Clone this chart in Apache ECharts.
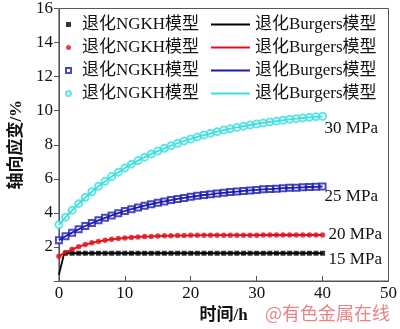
<!DOCTYPE html>
<html>
<head>
<meta charset="utf-8">
<script src="https://cdn.jsdelivr.net/npm/echarts@6/dist/echarts.min.js"></script>
<style>html,body{margin:0;padding:0;background:#fff}#c{width:400px;height:329px}</style>
</head>
<body>
<div id="c"></div>
<script>
// ---- data ----
var times = [0,1,2,3,4,5,6,7,8,9,10,11,12,13,14,15,16,17,18,19,20,21,22,23,24,25,26,27,28,29,30,31,32,33,34,35,36,37,38,39,40];
var strain30 = [3.30,3.74,4.15,4.54,4.90,5.24,5.56,5.85,6.13,6.39,6.63,6.86,7.07,7.27,7.46,7.63,7.79,7.94,8.09,8.22,8.34,8.46,8.57,8.67,8.77,8.86,8.94,9.02,9.09,9.16,9.22,9.28,9.34,9.39,9.44,9.49,9.53,9.57,9.61,9.64,9.67];
var strain25 = [2.40,2.63,2.84,3.04,3.23,3.40,3.56,3.71,3.85,3.98,4.11,4.22,4.32,4.42,4.51,4.60,4.67,4.75,4.82,4.88,4.94,5.00,5.05,5.09,5.14,5.18,5.22,5.25,5.29,5.32,5.35,5.38,5.40,5.42,5.45,5.47,5.48,5.50,5.52,5.53,5.55];
var strain20 = [1.45,1.68,1.86,2.01,2.14,2.24,2.32,2.39,2.45,2.49,2.53,2.56,2.59,2.61,2.62,2.64,2.65,2.66,2.67,2.67,2.68,2.68,2.69,2.69,2.69,2.69,2.69,2.69,2.69,2.69,2.69,2.70,2.70,2.70,2.70,2.70,2.70,2.70,2.70,2.70,2.70];
var times15 = [1,2,3,4,5,6,7,8,9,10,11,12,13,14,15,16,17,18,19,20,21,22,23,24,25,26,27,28,29,30,31,32,33,34,35,36,37,38,39,40];
var strain15 = [1.63,1.63,1.63,1.63,1.63,1.63,1.63,1.63,1.63,1.63,1.63,1.63,1.63,1.63,1.63,1.63,1.63,1.63,1.63,1.63,1.63,1.63,1.63,1.63,1.63,1.63,1.63,1.63,1.63,1.63,1.63,1.63,1.63,1.63,1.63,1.63,1.63,1.63,1.63,1.63];
var line15Times = [0,0.8,40];
var line15Values = [0.37,1.63,1.63];
var stressLabels = ['15 MPa','20 MPa','25 MPa','30 MPa'];
var xTicks = [0,10,20,30,40,50];
var yTicks = [0,2,4,6,8,10,12,14,16];
var ngkhName = '退化NGKH模型';
var burgersName = '退化Burgers模型';

function zip(t, v){ return t.map(function(x,i){ return [x, v[i]]; }); }

var FONT = '"Liberation Serif","Noto Sans CJK SC",serif';
var colors = ['#000000','#e3101a','#1c1cb0','#3cdede'];

var chart = echarts.init(document.getElementById('c'), null, {renderer:'canvas'});

var scatterDefs = [
  {id:'s15', data: zip(times15, strain15), symbol:'rect', size:5, c:colors[0]},
  {id:'s20', data: zip(times, strain20), symbol:'circle', size:5.5, c:colors[1]},
  {id:'s25', data: zip(times, strain25), symbol:'emptyRect', size:6, c:colors[2]},
  {id:'s30', data: zip(times, strain30), symbol:'emptyCircle', size:7, c:colors[3]}
];
var lineDefs = [
  {id:'l15', data: zip(line15Times, line15Values), c:colors[0], label:stressLabels[0], off:[-2,6]},
  {id:'l20', data: zip(times, strain20), c:colors[1], label:stressLabels[1], off:[-2,0]},
  {id:'l25', data: zip(times, strain25), c:colors[2], label:stressLabels[2], off:[-6,10]},
  {id:'l30', data: zip(times, strain30), c:colors[3], label:stressLabels[3], off:[-6,12]}
];

var series = [];
scatterDefs.forEach(function(d){
  series.push({
    name:d.id, type:'scatter', data:d.data, symbol:d.symbol, symbolSize:d.size, z:2,
    itemStyle:{color:d.c, borderColor:d.c, borderWidth: d.symbol.indexOf('empty')===0 ? 1.2 : 0},
    silent:true
  });
});
lineDefs.forEach(function(d){
  series.push({
    name:d.id, type:'line', data:d.data, symbol:'none', showSymbol:false, z:3,
    lineStyle:{color:d.c, width:1.8}, itemStyle:{color:d.c},
    endLabel:{show:true, formatter:d.label, color:'#111', fontFamily:FONT, fontSize:17, offset:d.off},
    silent:true, animation:false
  });
});

chart.setOption({
  animation:false,
  backgroundColor:'#fff',
  grid:{left:50, right:8, top:5, bottom:46, show:true, borderColor:'#555', borderWidth:1},
  legend:[
    {
      data:[
        {name:'s15', icon:'rect', itemStyle:{borderWidth:0}},
        {name:'s20', icon:'circle'},
        {name:'s25', icon:'emptyRect'},
        {name:'s30', icon:'emptyCircle'}
      ],
      orient:'vertical', left:60, top:11, itemGap:6,
      itemWidth:5, itemHeight:5, selectedMode:false,
      formatter:function(){ return ngkhName; },
      textStyle:{fontFamily:FONT, fontSize:17, color:'#111', padding:[0,0,0,6]}
    },
    {
      data:[
        {name:'l15', icon:'rect'},
        {name:'l20', icon:'rect'},
        {name:'l25', icon:'rect'},
        {name:'l30', icon:'rect'}
      ],
      orient:'vertical', left:206, top:11, itemGap:6,
      itemWidth:39, itemHeight:2, selectedMode:false,
      formatter:function(){ return burgersName; },
      textStyle:{fontFamily:FONT, fontSize:17, color:'#111', lineHeight:17}
    }
  ],
  xAxis:{
    type:'value', min:xTicks[0], max:xTicks[xTicks.length-1], interval:10,
    name:'时间/h', nameLocation:'middle', nameGap:26,
    nameTextStyle:{fontFamily:FONT, fontSize:17, fontWeight:'bold', color:'#111'},
    axisLine:{show:true, lineStyle:{color:'#555', width:1}},
    axisTick:{show:true, inside:true, length:5, lineStyle:{color:'#555'}},
    axisLabel:{fontFamily:FONT, fontSize:17, color:'#111', margin:4},
    splitLine:{show:false}
  },
  yAxis:{
    type:'value', min:yTicks[0], max:yTicks[yTicks.length-1], interval:2,
    name:'轴向应变/%', nameLocation:'middle', nameGap:27,
    nameTextStyle:{fontFamily:FONT, fontSize:17, fontWeight:'bold', color:'#111'},
    axisLine:{show:true, lineStyle:{color:'#555', width:1}},
    axisTick:{show:true, inside:false, length:5, lineStyle:{color:'#555'}},
    axisLabel:{fontFamily:FONT, fontSize:17, color:'#111', margin:6,
      formatter:function(v){ return v===0 ? '' : String(v); }},
    splitLine:{show:false}
  },
  graphic:[
    {type:'text', right:10, bottom:7, silent:true,
     style:{text:'@有色金属在线', fill:'rgba(225,90,90,0.75)', font:'18px "Noto Sans CJK SC", sans-serif'}}
  ],
  series:series
});
</script>
</body>
</html>
